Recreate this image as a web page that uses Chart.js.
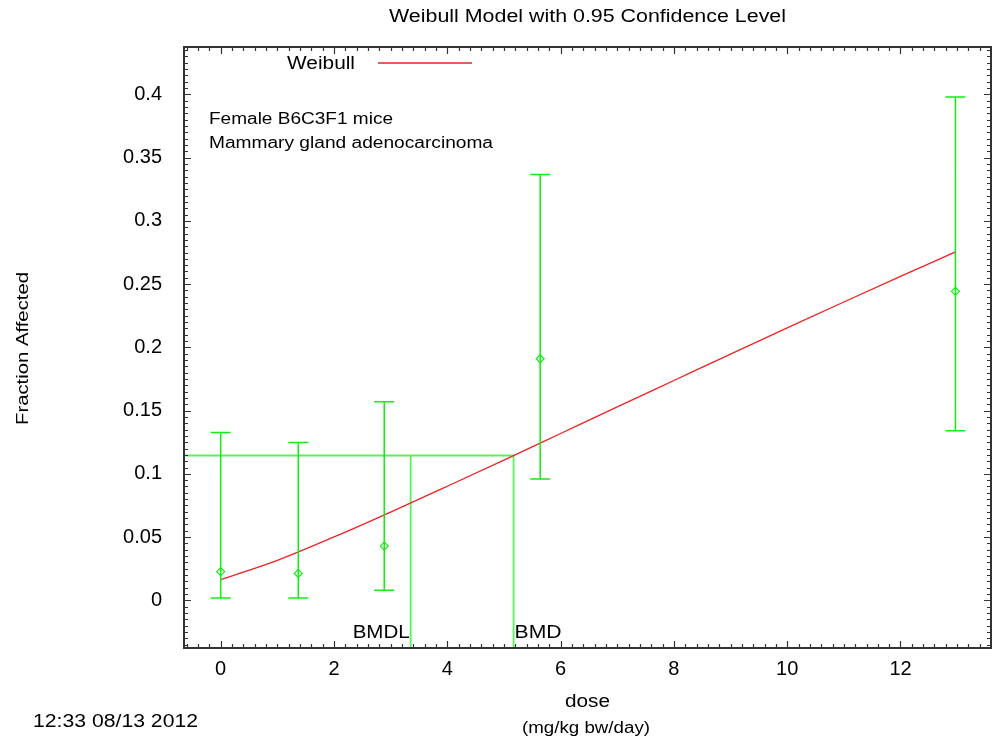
<!DOCTYPE html>
<html>
<head>
<meta charset="utf-8">
<title>Weibull Model</title>
<script src="https://cdn.jsdelivr.net/npm/chart.js@4.4.1/dist/chart.umd.min.js"></script>
<style>
  html, body { margin: 0; padding: 0; background: #fff; }
  canvas { display: block; }
</style>
</head>
<body>
<canvas id="weibullChart" width="997" height="742"></canvas>
<script>
// observed dose groups
const doses = [0, 1.37, 2.887, 5.64, 12.97];
const observed = [0.0227, 0.0213, 0.0429, 0.191, 0.2443];
const lowerCL = [0.0019, 0.0019, 0.0079, 0.096, 0.134];
const upperCL = [0.1326, 0.1247, 0.157, 0.3366, 0.3979];

// fitted Weibull curve
const curveDose = [0, 1, 2, 3, 4, 5, 6, 7, 8, 9, 10, 11, 12, 12.97];
const curveFrac = [0.0163, 0.0316, 0.0501, 0.0698, 0.0902, 0.1109, 0.1319, 0.1529, 0.1738, 0.1947, 0.2154, 0.2359, 0.2561, 0.2755];

// benchmark dose
const bmrLevel = 0.1145;
const bmd = 5.17;
const bmdl = 3.353;

const xTicks = [0, 2, 4, 6, 8, 10, 12];
const yTicks = [0, 0.05, 0.1, 0.15, 0.2, 0.25, 0.3, 0.35, 0.4];
const xRange = [-0.6475, 13.5975];
const yRange = [-0.0377, 0.4375];

const FONT = '"Liberation Sans", Arial, Helvetica, sans-serif';
const GREEN = '#11ee11';
const BMD_GREEN = '#5cf05c';

// draws text squeezed/stretched to a given width (the source font is wide)
function fitText(ctx, text, x, y, size, width, align, rotate) {
  ctx.save();
  ctx.font = size + 'px ' + FONT;
  ctx.fillStyle = '#000';
  ctx.textBaseline = 'alphabetic';
  ctx.textAlign = align;
  ctx.translate(x, y);
  if (rotate) ctx.rotate(rotate);
  const w = ctx.measureText(text).width;
  ctx.scale(width / w, 1);
  ctx.fillText(text, 0, 0);
  ctx.restore();
}

const errorBars = {
  id: 'errorBars',
  afterDatasetsDraw(chart) {
    const { ctx, scales: { x, y } } = chart;
    ctx.save();
    ctx.strokeStyle = GREEN;
    ctx.lineWidth = 1.5;
    ctx.beginPath();
    doses.forEach((d, i) => {
      const px = x.getPixelForValue(d);
      const lo = y.getPixelForValue(lowerCL[i]);
      const hi = y.getPixelForValue(upperCL[i]);
      ctx.moveTo(px, lo); ctx.lineTo(px, hi);
      ctx.moveTo(px - 10, lo); ctx.lineTo(px + 10, lo);
      ctx.moveTo(px - 10, hi); ctx.lineTo(px + 10, hi);
    });
    ctx.stroke();
    ctx.restore();
  }
};

const frameAndText = {
  id: 'frameAndText',
  afterDraw(chart) {
    const { ctx, chartArea: a, scales: { x, y } } = chart;
    ctx.save();
    ctx.strokeStyle = '#333';
    ctx.lineWidth = 1.2;
    ctx.beginPath();
    // inward ticks on all four sides
    for (let i = -3; i <= 68; i++) {
      const v = i * 0.2;
      if (v < x.min || v > x.max) continue;
      const px = Math.round(x.getPixelForValue(v)) + 0.5;
      const len = i % 10 === 0 ? 7 : 4;
      ctx.moveTo(px, a.bottom); ctx.lineTo(px, a.bottom - len);
      ctx.moveTo(px, a.top); ctx.lineTo(px, a.top + len);
    }
    for (let i = -7; i <= 88; i++) {
      const v = i * 0.005;
      if (v < y.min || v > y.max) continue;
      const py = Math.round(y.getPixelForValue(v)) + 0.5;
      const len = i % 10 === 0 ? 7 : 4;
      ctx.moveTo(a.left, py); ctx.lineTo(a.left + len, py);
      ctx.moveTo(a.right, py); ctx.lineTo(a.right - len, py);
    }
    ctx.stroke();
    ctx.lineWidth = 2;
    ctx.strokeRect(a.left, a.top, a.right - a.left, a.bottom - a.top);

    // legend
    fitText(ctx, 'Weibull', 287, 69, 18, 68, 'left');
    ctx.strokeStyle = '#ee2222';
    ctx.lineWidth = 1.3;
    ctx.beginPath();
    ctx.moveTo(378, 63); ctx.lineTo(472, 63);
    ctx.stroke();
    ctx.restore();

    fitText(ctx, 'Weibull Model with 0.95 Confidence Level', 587.5, 22, 18, 397, 'center');
    fitText(ctx, 'Female B6C3F1 mice', 209, 124, 16, 184, 'left');
    fitText(ctx, 'Mammary gland adenocarcinoma', 209, 148, 16, 284, 'left');
    fitText(ctx, 'BMDL', x.getPixelForValue(bmdl) - 1, 638, 19, 57, 'right');
    fitText(ctx, 'BMD', x.getPixelForValue(bmd) + 1, 638, 19, 47, 'left');
    fitText(ctx, 'dose', 587.5, 707, 18, 45, 'center');
    fitText(ctx, '(mg/kg bw/day)', 586, 733, 16, 128, 'center');
    fitText(ctx, '12:33 08/13 2012', 33, 727, 18, 165, 'left');
    fitText(ctx, 'Fraction Affected', 28, 348.5, 17, 153, 'center', -Math.PI / 2);
  }
};

document.addEventListener('DOMContentLoaded', function() {
  const ctx = document.getElementById('weibullChart');

  const chart = new Chart(ctx, {
    type: 'scatter',
    data: {
      datasets: [
        {
          label: 'Weibull',
          type: 'line',
          data: curveDose.map((d, i) => ({ x: d, y: curveFrac[i] })),
          borderColor: '#ee2222',
          borderWidth: 1.3,
          pointRadius: 0,
          cubicInterpolationMode: 'monotone',
          fill: false
        },
        {
          label: 'BMD',
          type: 'line',
          data: [
            { x: xRange[0], y: bmrLevel },
            { x: bmd, y: bmrLevel },
            { x: bmd, y: yRange[0] }
          ],
          borderColor: BMD_GREEN,
          borderWidth: 1.8,
          pointRadius: 0,
          tension: 0
        },
        {
          label: 'BMDL',
          type: 'line',
          data: [
            { x: bmdl, y: bmrLevel },
            { x: bmdl, y: yRange[0] }
          ],
          borderColor: BMD_GREEN,
          borderWidth: 1.8,
          pointRadius: 0,
          tension: 0
        },
        {
          label: 'Observed',
          data: doses.map((d, i) => ({ x: d, y: observed[i] })),
          pointStyle: 'rectRot',
          pointRadius: 4,
          pointBorderWidth: 1.2,
          pointBorderColor: GREEN,
          pointBackgroundColor: 'rgba(0,0,0,0)'
        }
      ]
    },
    options: {
      responsive: false,
      animation: false,
      layout: { padding: { top: 47, right: 6, left: 0, bottom: 0 } },
      plugins: {
        legend: { display: false },
        title: { display: false },
        tooltip: { enabled: false }
      },
      scales: {
        x: {
          type: 'linear',
          min: xRange[0],
          max: xRange[1],
          afterBuildTicks: s => { s.ticks = xTicks.map(v => ({ value: v })); },
          afterFit: s => { s.height = 94; },
          grid: { display: false, drawTicks: false },
          border: { display: false },
          ticks: {
            color: '#000',
            padding: 9,
            maxRotation: 0,
            font: { family: FONT, size: 20 },
            callback: v => String(v)
          }
        },
        y: {
          type: 'linear',
          min: yRange[0],
          max: yRange[1],
          afterBuildTicks: s => { s.ticks = yTicks.map(v => ({ value: v })); },
          afterFit: s => { s.width = 184; },
          grid: { display: false, drawTicks: false },
          border: { display: false },
          ticks: {
            color: '#000',
            padding: 22,
            font: { family: FONT, size: 20 },
            callback: v => String(+v.toFixed(2))
          }
        }
      }
    },
    plugins: [errorBars, frameAndText]
  });
});
</script>
</body>
</html>
